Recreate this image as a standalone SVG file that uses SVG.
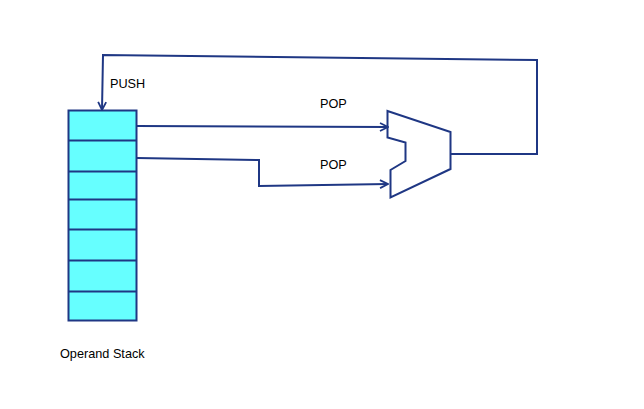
<svg xmlns="http://www.w3.org/2000/svg" width="644" height="409" viewBox="0 0 644 409">
  <style>
    .ln { fill: none; stroke: #1f3784; stroke-width: 2; stroke-linejoin: miter; }
    .cell { fill: #66ffff; stroke: #1f3784; stroke-width: 2; }
    .lbl { font-family: "Liberation Sans", Arial, sans-serif; font-size: 12.7px; fill: #000; }
  </style>
  <defs>
    <marker id="arr" viewBox="0 0 10 10" refX="9" refY="5" markerWidth="10" markerHeight="10" markerUnits="userSpaceOnUse" orient="auto">
      <path d="M1,1 L9,5 L1,9" fill="none" stroke="#1f3784" stroke-width="1.8"/>
    </marker>
  </defs>
  <rect width="644" height="409" fill="#ffffff"/>

  <g id="stack">
    <rect class="cell" x="68.5" y="110.5" width="68" height="210"/>
    <line class="ln" x1="68.5" y1="140.5" x2="136.5" y2="140.5"/>
    <line class="ln" x1="68.5" y1="171.5" x2="136.5" y2="171.5"/>
    <line class="ln" x1="68.5" y1="199.5" x2="136.5" y2="199.5"/>
    <line class="ln" x1="68.5" y1="229.5" x2="136.5" y2="229.5"/>
    <line class="ln" x1="68.5" y1="260.5" x2="136.5" y2="260.5"/>
    <line class="ln" x1="68.5" y1="291.5" x2="136.5" y2="291.5"/>
    <text class="lbl" x="60" y="358">Operand Stack</text>
  </g>

  <g id="alu">
    <path class="ln" d="M387.5,111 L450.5,132 L450.5,169 L390.5,197.5 L390.5,170 L405.5,161 L405.5,142.5 L387.5,137.5 Z"/>
  </g>

  <g id="connectors">
    <polyline class="ln" points="137,126 388,127" marker-end="url(#arr)"/>
    <polyline class="ln" points="137,158 259,160 259,186 388,184" marker-end="url(#arr)"/>
    <polyline class="ln" points="450,154 537,154 537,60 103,55 102,110" marker-end="url(#arr)"/>
    <text class="lbl" x="110" y="88">PUSH</text>
    <text class="lbl" x="320" y="108">POP</text>
    <text class="lbl" x="320" y="169">POP</text>
  </g>
</svg>
